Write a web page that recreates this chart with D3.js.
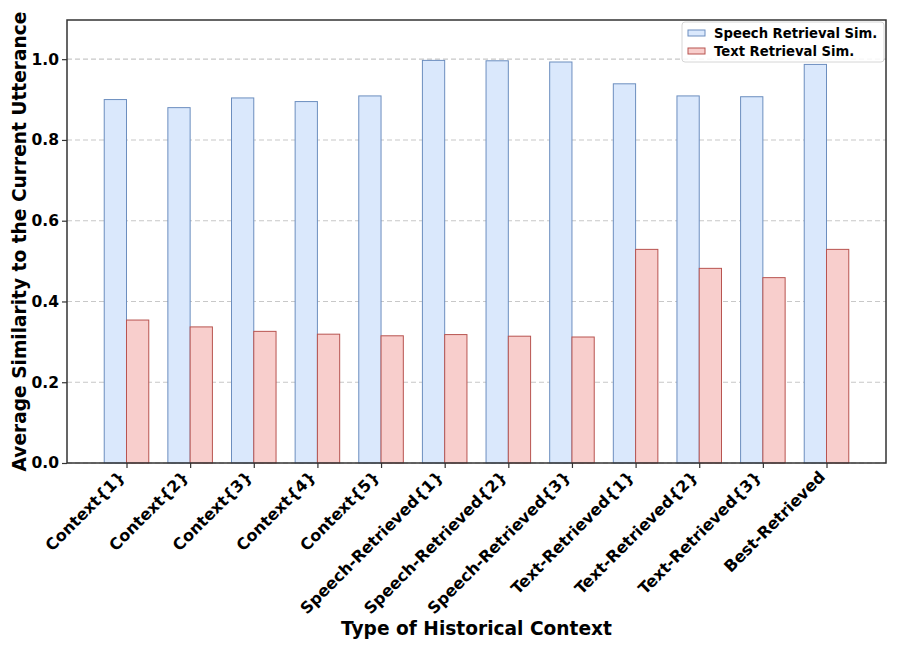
<!DOCTYPE html>
<html>
<head>
<meta charset="utf-8">
<script src="https://cdn.jsdelivr.net/npm/d3@7"></script>
<style>
  body { margin: 0; background: #fff; }
  svg { display: block; }
  text { font-family: "DejaVu Sans", sans-serif; font-weight: bold; }
</style>
</head>
<body>
<svg id="chart" width="904" height="648"></svg>
<script>
const categories = ["Context{1}", "Context{2}", "Context{3}", "Context{4}", "Context{5}",
  "Speech-Retrieved{1}", "Speech-Retrieved{2}", "Speech-Retrieved{3}",
  "Text-Retrieved{1}", "Text-Retrieved{2}", "Text-Retrieved{3}", "Best-Retrieved"];
const speechSim = [0.900, 0.880, 0.904, 0.895, 0.909, 0.997, 0.996, 0.993, 0.939, 0.909, 0.907, 0.987];
const textSim   = [0.354, 0.337, 0.326, 0.319, 0.315, 0.318, 0.314, 0.312, 0.529, 0.482, 0.459, 0.529];
const yTicks = [0.0, 0.2, 0.4, 0.6, 0.8, 1.0];
const seriesNames = ["Speech Retrieval Sim.", "Text Retrieval Sim."];

const svg = d3.select("#chart");
const m = { left: 67, right: 886, top: 20, bottom: 463 };
const barW = 0.35;

const x = d3.scaleLinear().domain([-0.935, categories.length - 1 + 0.935]).range([m.left, m.right]);
const y = d3.scaleLinear().domain([0, 1.097]).range([m.bottom, m.top]);

// grid
svg.append("g").selectAll("line").data(yTicks).join("line")
  .attr("x1", m.left).attr("x2", m.right)
  .attr("y1", d => y(d)).attr("y2", d => y(d))
  .attr("stroke", "#c8c8c8").attr("stroke-width", 1.1)
  .attr("stroke-dasharray", "5,3");

// bars
const series = [
  { vals: speechSim, off: -barW / 2, fill: "#dae8fc", stroke: "#6c8ebf" },
  { vals: textSim, off: barW / 2, fill: "#f8cecc", stroke: "#b85450" }
];
series.forEach(s => {
  svg.append("g").selectAll("rect").data(s.vals).join("rect")
    .attr("x", (d, i) => x(i + s.off - barW / 2))
    .attr("width", (d, i) => x(i + s.off + barW / 2) - x(i + s.off - barW / 2))
    .attr("y", d => y(d))
    .attr("height", d => y(0) - y(d))
    .attr("fill", s.fill).attr("stroke", s.stroke).attr("stroke-width", 1);
});

// axes
const yAxis = svg.append("g").attr("transform", `translate(${m.left},0)`)
  .call(d3.axisLeft(y).tickValues(yTicks).tickFormat(d3.format(".1f")).tickSize(5).tickPadding(3));
yAxis.select(".domain").remove();
yAxis.selectAll("text").attr("font-size", 15.5).attr("fill", "#000").style("font-weight", "bold")
  .style("font-family", "DejaVu Sans");
yAxis.selectAll("line").attr("stroke", "#333").attr("stroke-width", 1.2);

const xAxis = svg.append("g").attr("transform", `translate(0,${m.bottom})`)
  .call(d3.axisBottom(x).tickValues(d3.range(categories.length)).tickFormat(i => categories[i]).tickSize(5));
xAxis.select(".domain").remove();
xAxis.selectAll("line").attr("stroke", "#333").attr("stroke-width", 1.2);
xAxis.selectAll("text")
  .attr("font-size", 16).attr("fill", "#000")
  .style("font-weight", "bold").style("font-family", "DejaVu Sans")
  .attr("text-anchor", "end")
  .attr("dy", null).attr("y", null)
  .attr("transform", "translate(-1,15) rotate(-45)");

// frame
svg.append("rect").attr("x", m.left).attr("y", m.top)
  .attr("width", m.right - m.left).attr("height", m.bottom - m.top)
  .attr("fill", "none").attr("stroke", "#333").attr("stroke-width", 1.5);

// axis labels
svg.append("text").attr("x", (m.left + m.right) / 2).attr("y", 635)
  .attr("text-anchor", "middle").attr("font-size", 18.6).text("Type of Historical Context");
svg.append("text").attr("transform", `translate(26,${(m.top + m.bottom) / 2}) rotate(-90)`)
  .attr("text-anchor", "middle").attr("font-size", 18.6).text("Average Similarity to the Current Utterance");

// legend
const lg = svg.append("g").attr("transform", "translate(682,22)");
lg.append("rect").attr("x", 0).attr("y", 0).attr("width", 202).attr("height", 40)
  .attr("rx", 3).attr("fill", "#fff").attr("fill-opacity", 0.85).attr("stroke", "#d6d6d6");
series.forEach((s, i) => {
  lg.append("rect").attr("x", 6).attr("y", 8 + i * 18).attr("width", 17).attr("height", 6)
    .attr("fill", s.fill).attr("stroke", s.stroke).attr("stroke-width", 1);
  lg.append("text").attr("x", 32).attr("y", 16 + i * 18).attr("font-size", 13.2)
    .text(seriesNames[i]);
});
</script>
</body>
</html>
